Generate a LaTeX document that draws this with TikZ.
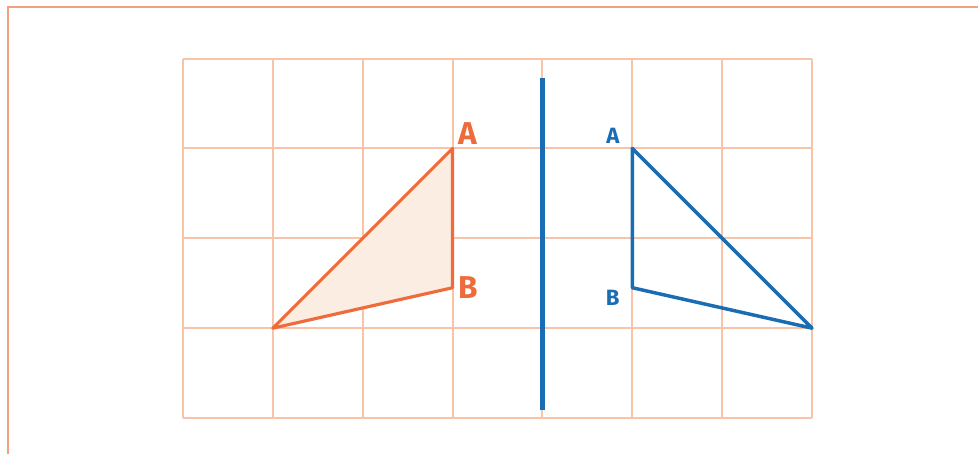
\documentclass[tikz,border=0pt]{standalone}
\usepackage{fontspec}
\setsansfont{Fira Sans}
\usetikzlibrary{positioning,calc}
\definecolor{gridor}{HTML}{F8C3A6}
\definecolor{frameor}{HTML}{F4A07E}
\definecolor{triangor}{HTML}{EE6B3B}
\definecolor{fillor}{HTML}{FCEDE3}
\definecolor{mirblue}{HTML}{1A6CB3}
\tikzset{
  gridline/.style={draw=gridor, line width=0.6pt},
  frameline/.style={draw=frameor, line width=0.8pt},
  origtri/.style={draw=triangor, fill=fillor, line width=1pt, line join=round},
  imagetri/.style={draw=mirblue, line width=1.1pt, line join=round},
  mirror/.style={draw=mirblue, line width=1.4pt},
  origlabel/.style={text=triangor, font=\sffamily\bfseries, inner sep=1pt},
  imagelabel/.style={text=mirblue, font=\sffamily\bfseries\scriptsize, inner sep=1pt}
}

\begin{document}
\begin{tikzpicture}[x=1cm, y=1cm]
  \useasboundingbox (-2.036,-0.401) rectangle (8.847,4.652);
  % frame
  \draw[frameline] (-1.947,-0.401) -- (-1.947,4.574) -- (8.847,4.574);
  % grid
  \draw[gridline] (0,0) grid (7,4);
  %% original triangle
  \coordinate (oC) at (1,1);
  \coordinate (oA) at (3,3);
  \coordinate (oB) at (3,1.45);
  \draw[origtri] (oC) -- (oA) -- (oB) -- cycle;
  \node[origlabel, anchor=south west] (lA) at ($(oA)+(0.02,0)$) {A};
  \node[origlabel, anchor=west] (lB) at ($(oB)+(0.02,0)$) {B};
  %% mirror line
  \draw[mirror] (4,0.09) -- (4,3.78);
  %% image triangle
  \coordinate (iA) at (5,3);
  \coordinate (iB) at (5,1.45);
  \coordinate (iC) at (7,1);
  \draw[imagetri] (iA) -- (iB) -- (iC) -- cycle;
  \node[imagelabel, anchor=south east] (mA) at ($(iA)+(-0.1,0.01)$) {A};
  \node[imagelabel, anchor=north east] (mB) at ($(iB)+(-0.1,0.01)$) {B};
\end{tikzpicture}
\end{document}
